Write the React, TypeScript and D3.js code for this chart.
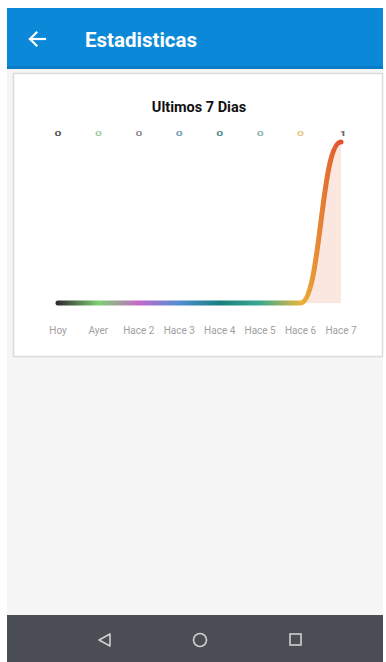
import React from "react";
import * as d3 from "d3";

const categories = ["Hoy", "Ayer", "Hace 2", "Hace 3", "Hace 4", "Hace 5", "Hace 6", "Hace 7"];
const values = [0, 0, 0, 0, 0, 0, 0, 1];
const lineColors = ["#2e2e2e", "#7fd072", "#c46ac8", "#4f8fd6", "#17807f", "#3aa98f", "#e9b43a", "#e2502e"];
const labelColors = ["#555555", "#a8c9a0", "#8f8f96", "#6f9db8", "#4f8a88", "#8fb5b5", "#e8c486", "#666666"];
const title = "Ultimos 7 Dias";
const header = "Estadisticas";

export default function App() {
  const W = 386;
  const H = 662;
  const x = d3.scalePoint<string>().domain(categories).range([58, 341]);
  const y = d3.scaleLinear().domain([0, 1]).range([303, 142]);
  const pts: [number, number][] = categories.map((c, i) => [x(c) as number, y(values[i])]);
  const line = d3.line().curve(d3.curveBumpX)(pts) || "";
  const area =
    d3
      .area<[number, number]>()
      .curve(d3.curveBumpX)
      .x((d) => d[0])
      .y0(y(0))
      .y1((d) => d[1])(pts) || "";
  const x0 = x(categories[0]) as number;
  const x1 = x(categories[categories.length - 1]) as number;

  return (
    <svg
      width={W}
      height={H}
      style={{ position: "absolute", left: 0, top: 0, display: "block" }}
      fontFamily="Roboto, 'Noto Sans', sans-serif"
    >
      <defs>
        <linearGradient id="lg" gradientUnits="userSpaceOnUse" x1={x0} x2={x1} y1={0} y2={0}>
          {lineColors.map((c, i) => (
            <stop key={i} offset={i / (lineColors.length - 1)} stopColor={c} />
          ))}
        </linearGradient>
      </defs>
      <rect x={0} y={0} width={W} height={H} fill="#ffffff" />
      {/* screen background */}
      <rect x={7} y={8} width={376} height={654} fill="#f5f5f5" />
      {/* header */}
      <rect x={7} y={8} width={376} height={61} fill="#0b89d8" />
      <rect x={7} y={66} width={376} height={3} fill="#0a7cc6" />
      <g stroke="#ffffff" strokeWidth={2.2} fill="none" strokeLinecap="square">
        <line x1={30} y1={39} x2={45} y2={39} />
        <polyline points="36.5,32.5 30,39 36.5,45.5" />
      </g>
      <text x={85} y={47} fill="#ffffff" fontSize={20.5} fontWeight={700}>
        {header}
      </text>
      {/* card */}
      <rect x={13.5} y={73.5} width={369} height={283} fill="#ffffff" stroke="#dcdcdc" strokeWidth={1.5} />
      <text x={199} y={112} textAnchor="middle" fontSize={14.5} fontWeight={700} fill="#111">
        {title}
      </text>
      {/* area fill */}
      <path d={area} fill="#fbe3da" opacity={0.85} />
      {/* line */}
      <path d={line} fill="none" stroke="url(#lg)" strokeWidth={5} strokeLinecap="round" strokeLinejoin="round" />
      {/* value labels */}
      {categories.map((c, i) => (
        <text
          key={c}
          transform={`translate(${(x(c) as number) + (i === categories.length - 1 ? 2 : 0)},136) scale(1.35,0.8)`}
          textAnchor="middle"
          fontSize={9}
          fontWeight={700}
          fill={labelColors[i]}
        >
          {values[i]}
        </text>
      ))}
      {/* x labels */}
      {categories.map((c) => (
        <text key={c} x={x(c) as number} y={333.5} textAnchor="middle" fontSize={10} fill="#a0a0a0">
          {c}
        </text>
      ))}
      {/* nav bar */}
      <rect x={7} y={615} width={376} height={47} fill="#4a4e54" />
      <g stroke="#d0d0d0" strokeWidth={1.6} fill="none">
        <polygon points="110,634 110,646 99,640" strokeLinejoin="round" />
        <circle cx={200} cy={640} r={6.5} />
        <rect x={290} y={634} width={11} height={11} />
      </g>
    </svg>
  );
}
